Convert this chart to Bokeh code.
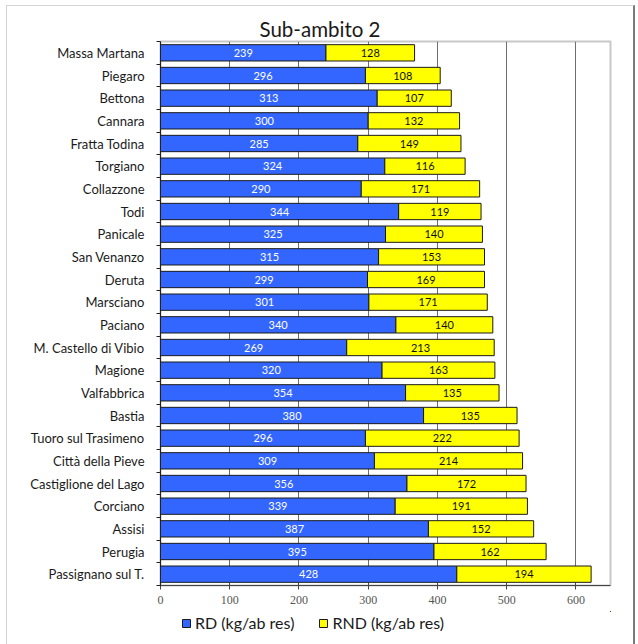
from bokeh.plotting import figure
from bokeh.layouts import column
from bokeh.models import (ColumnDataSource, Range1d, FixedTicker, Legend, LegendItem,
                          LabelSet)
from bokeh.embed import file_html
from bokeh.resources import INLINE
from bokeh.core.properties import value

# Municipalities of Sub-ambito 2 (top to bottom) with per-capita waste figures
comuni = [
    "Massa Martana", "Piegaro", "Bettona", "Cannara", "Fratta Todina", "Torgiano",
    "Collazzone", "Todi", "Panicale", "San Venanzo", "Deruta", "Marsciano",
    "Paciano", "M. Castello di Vibio", "Magione", "Valfabbrica", "Bastia",
    "Tuoro sul Trasimeno", "Città della Pieve", "Castiglione del Lago",
    "Corciano", "Assisi", "Perugia", "Passignano sul T.",
]
rd = [239, 296, 313, 300, 285, 324, 290, 344, 325, 315, 299, 301,
      340, 269, 320, 354, 380, 296, 309, 356, 339, 387, 395, 428]
rnd = [128, 108, 107, 132, 149, 116, 171, 119, 140, 153, 169, 171,
       140, 213, 163, 135, 135, 222, 214, 172, 191, 152, 162, 194]
x_ticks = [0, 100, 200, 300, 400, 500, 600]
series_names = ["RD (kg/ab res)", "RND (kg/ab res)"]

BLUE = "#3366FF"
YELLOW = "#FFFF00"
EDGE = "#1a1a1a"
FONT = "Lato"

n = len(comuni)
pos = list(range(n))
tot = [a + b for a, b in zip(rd, rnd)]
src = ColumnDataSource(dict(
    y=pos, rd=rd, rnd=rnd, tot=tot,
    rd_mid=[a / 2 for a in rd],
    rnd_mid=[a + b / 2 for a, b in zip(rd, rnd)],
    rd_lbl=[str(a) for a in rd],
    rnd_lbl=[str(b) for b in rnd],
))

p = figure(
    width=626, height=605,
    x_range=Range1d(0, 650), y_range=Range1d(n - 0.5, -0.5),
    output_backend="svg", toolbar_location=None,
    min_border_left=153, min_border_right=23, min_border_top=35, min_border_bottom=26,
    title="Sub-ambito 2",
)

p.title.text_font = FONT
p.title.text_font_size = "20.5px"
p.title.text_font_style = "normal"
p.title.text_color = "#1a1a1a"
p.title.align = "left"
p.title.offset = 99
p.title.standoff = 1

p.background_fill_color = "white"
p.border_fill_color = "white"
p.outline_line_color = "#c8c8c8"
p.outline_line_width = 2

# vertical gridlines only
p.ygrid.grid_line_color = None
p.xgrid.ticker = FixedTicker(ticks=x_ticks[1:])
p.xgrid.grid_line_color = "#6e6e6e"
p.xgrid.grid_line_width = 1

bar_h = 0.72
r_rd = p.hbar(y="y", left=0, right="rd", height=bar_h, source=src,
              fill_color=BLUE, line_color=EDGE, line_width=1)
r_rnd = p.hbar(y="y", left="rd", right="tot", height=bar_h, source=src,
               fill_color=YELLOW, line_color=EDGE, line_width=1)

p.add_layout(LabelSet(x="rd_mid", y="y", text="rd_lbl", source=src,
                      text_align="center", text_baseline="middle",
                      text_font=value(FONT), text_font_size="11px",
                      text_color="white"))
p.add_layout(LabelSet(x="rnd_mid", y="y", text="rnd_lbl", source=src,
                      text_align="center", text_baseline="middle",
                      text_font=value(FONT), text_font_size="11px",
                      text_color="#111111"))

# x axis
p.xaxis.ticker = FixedTicker(ticks=x_ticks)
p.xaxis.axis_line_color = "#444444"
p.xaxis.major_tick_line_color = "#444444"
p.xaxis.major_tick_in = 3
p.xaxis.major_tick_out = 4
p.xaxis.minor_tick_line_color = None
p.xaxis.major_label_text_font = "Liberation Serif"
p.xaxis.major_label_text_font_size = "12px"
p.xaxis.major_label_text_color = "#555555"
p.xaxis.major_label_standoff = 6

# y axis: names at bar centres, tick marks between categories
p.yaxis.ticker = FixedTicker(ticks=pos, minor_ticks=[i - 0.5 for i in range(n + 1)])
p.yaxis.major_label_overrides = {i: c for i, c in enumerate(comuni)}
p.yaxis.major_tick_line_color = None
p.yaxis.minor_tick_line_color = "#222222"
p.yaxis.minor_tick_out = 4
p.yaxis.minor_tick_in = 0
p.yaxis.axis_line_color = "#222222"
p.yaxis.major_label_text_font = FONT
p.yaxis.major_label_text_font_size = "13px"
p.yaxis.major_label_text_color = "#1a1a1a"
p.yaxis.major_label_standoff = 10

# legend strip under the chart; its swatch renderers reuse the bar data but sit
# outside the strip's visible ranges, so only the legend itself shows
lg = figure(width=626, height=33, output_backend="svg", toolbar_location=None,
            x_range=Range1d(-2, -1), y_range=Range1d(-2, -1),
            x_axis_location=None, y_axis_location=None,
            min_border=0, outline_line_color=None)
lg.grid.visible = False
sw_rd = lg.hbar(y="y", left=0, right="rd", height=bar_h, source=src,
                fill_color=BLUE, line_color=EDGE)
sw_rnd = lg.hbar(y="y", left="rd", right="tot", height=bar_h, source=src,
                 fill_color=YELLOW, line_color=EDGE)
legend = Legend(items=[LegendItem(label=series_names[0], renderers=[sw_rd]),
                       LegendItem(label=series_names[1], renderers=[sw_rnd])],
                orientation="horizontal", location=(21, 12),
                label_text_font=FONT, label_text_font_size="16px",
                label_text_color="#1a1a1a", label_standoff=4,
                glyph_width=10, glyph_height=10, spacing=24,
                padding=2, margin=0, border_line_color=None,
                background_fill_alpha=0)
lg.add_layout(legend)

layout = column(p, lg, spacing=0)
layout.margin = (5, 0, 0, 6)
layout.styles = {"border-top": "1px solid #d4d4d4", "border-left": "1px solid #d4d4d4",
                 "border-right": "2px solid #7a7a7a"}

open("out.html", "w").write(file_html(layout, INLINE))
